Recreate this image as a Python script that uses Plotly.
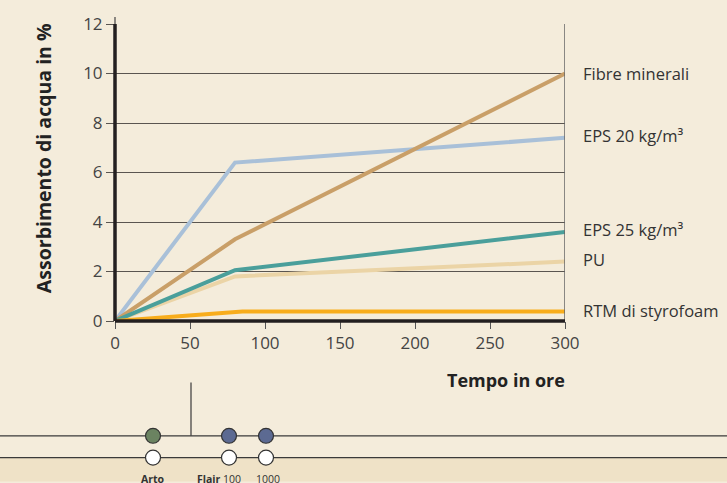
import plotly.graph_objects as go

# ---- data ----
hours = [0, 80, 300]
series_names = ["EPS 20 kg/m³", "Fibre minerali", "EPS 25 kg/m³", "PU", "RTM di styrofoam"]
eps20 = [0, 6.4, 7.4]
fibre = [0, 3.3, 10.0]
eps25 = [0, 2.05, 3.6]
pu = [0, 1.8, 2.4]
rtm_hours = [0, 85, 300]
rtm = [0, 0.38, 0.38]
y_ticks = [0, 2, 4, 6, 8, 10, 12]
x_ticks = [0, 50, 100, 150, 200, 250, 300]

label_texts = ["Fibre minerali", "EPS 20 kg/m³", "EPS 25 kg/m³", "PU", "RTM di styrofoam"]
label_y = [10.0, 7.48, 3.68, 2.48, 0.44]

bottom_labels = ["<b>Arto</b>", "<b>Flair</b> 100", "1000"]

# ---- style ----
BG = "#f4ecdb"
colors = {
    "EPS 20 kg/m³": "#a9c0d8",
    "Fibre minerali": "#c99f68",
    "EPS 25 kg/m³": "#4a9f9b",
    "PU": "#ebd4a6",
    "RTM di styrofoam": "#f8ad1c",
}
W, H = 727, 483
L, R, T, B = 115, 565, 21, 321  # plot area in pixels


def px(x):
    return (x - L) / (R - L)


def py(y):
    return (B - y) / (B - T)


FONT = "Open Sans"

fig = go.Figure()
draw_order = [("PU", hours, pu), ("EPS 20 kg/m³", hours, eps20), ("Fibre minerali", hours, fibre),
              ("EPS 25 kg/m³", hours, eps25), ("RTM di styrofoam", rtm_hours, rtm)]
for name, xs, ys in draw_order:
    fig.add_trace(go.Scatter(x=xs, y=ys, mode="lines", name=name,
                             line=dict(color=colors[name], width=4), showlegend=False,
                             cliponaxis=False, hoverinfo="skip"))

annotations = []
for t, yv in zip(label_texts, label_y):
    annotations.append(dict(x=300, y=yv, xref="x", yref="y", text=t, showarrow=False,
                            xanchor="left", yanchor="middle", xshift=16,
                            font=dict(family=FONT, size=16.5, color="#333333")))

annotations.append(dict(x=px(28), y=py(157), xref="paper", yref="paper",
                        text="<b>Assorbimento di acqua in %</b>", textangle=-90,
                        showarrow=False, font=dict(family=FONT, size=19.5, color="#222222")))
annotations.append(dict(x=px(567), y=py(381), xref="paper", yref="paper",
                        text="<b>Tempo in ore</b>", xanchor="right", yanchor="middle",
                        showarrow=False, font=dict(family=FONT, size=18, color="#222222")))

shapes = []
# bottom band
shapes.append(dict(type="rect", xref="paper", yref="paper", x0=px(0), x1=px(W), y0=py(459), y1=py(H),
                   fillcolor="#efe2c7", line=dict(width=0), layer="below"))
# horizontal rails
for yy in (437, 459):
    shapes.append(dict(type="line", xref="paper", yref="paper", x0=px(0), x1=px(W), y0=py(yy), y1=py(yy),
                       line=dict(color="#3a3a3a", width=1.2)))
# vertical marker
shapes.append(dict(type="line", xref="paper", yref="paper", x0=px(191), x1=px(191), y0=py(383), y1=py(437),
                   line=dict(color="#3a3a3a", width=1.2)))
# circles
circ_x = [153, 229, 266]
circ_fill = ["#6b8361", "#5c6a92", "#5c6a92"]
r = 7.5
for cx, cf in zip(circ_x, circ_fill):
    for cy, f in ((437, cf), (459, "#ffffff")):
        shapes.append(dict(type="circle", xref="paper", yref="paper",
                           x0=px(cx - r), x1=px(cx + r), y0=py(cy + r), y1=py(cy - r),
                           fillcolor=f, line=dict(color="#333333", width=1.2)))
label_pos = [(153, "center"), (243, "right"), (268, "center")]
for (lx, anc), t in zip(label_pos, bottom_labels):
    annotations.append(dict(x=px(lx), y=py(472), xref="paper", yref="paper", text=t,
                            showarrow=False, xanchor=anc, yanchor="top",
                            font=dict(family=FONT, size=10.5, color="#333333")))

# right frame line at x=300
shapes.append(dict(type="line", xref="x", yref="y", x0=300, x1=300, y0=0, y1=12,
                   line=dict(color="#666666", width=1.5)))
# small extension above y-axis
shapes.append(dict(type="line", xref="paper", yref="paper", x0=0, x1=0, y0=1, y1=py(14),
                   line=dict(color="#444444", width=1.2)))
# thick y-axis line & thick x-axis line
shapes.append(dict(type="line", xref="paper", yref="paper", x0=0, x1=0, y0=0, y1=1,
                   line=dict(color="#231f20", width=3.5)))
shapes.append(dict(type="line", xref="paper", yref="paper", x0=0, x1=1, y0=0, y1=0,
                   line=dict(color="#231f20", width=3.5)))

fig.update_layout(
    width=W, height=H,
    margin=dict(l=L, r=W - R, t=T, b=H - B, pad=0),
    paper_bgcolor=BG, plot_bgcolor=BG,
    shapes=shapes, annotations=annotations,
    xaxis=dict(range=[0, 300], tickvals=x_ticks, showgrid=False, zeroline=False,
               showline=False, ticks="outside", ticklen=7, tickwidth=1.2, tickcolor="#555555",
               tickfont=dict(family=FONT, size=17, color="#444444")),
    yaxis=dict(range=[0, 12], tickvals=y_ticks, showgrid=True, gridcolor="#5a5550", gridwidth=1.3,
               zeroline=False, showline=False, ticks="outside", ticklen=8, tickwidth=1.3,
               tickcolor="#5a5550", tickfont=dict(family=FONT, size=17, color="#444444")),
)

fig.write_html("out.html", config={"displayModeBar": False},
               post_script="document.body.style.margin='0px';document.body.style.overflow='hidden';")
